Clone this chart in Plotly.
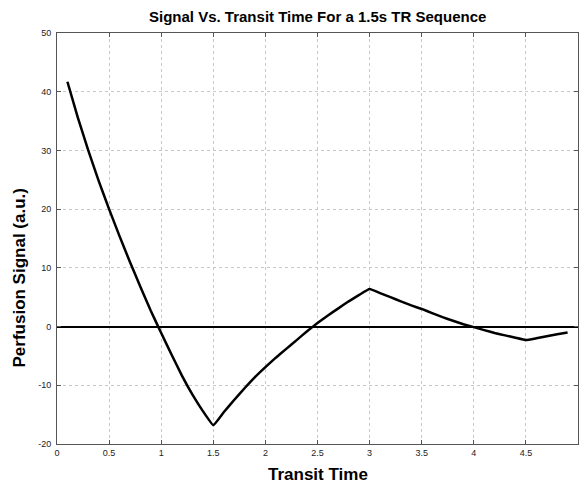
import plotly.graph_objects as go

# Transit time (s) and perfusion signal (a.u.)
transit_time = [0.1, 0.2, 0.3, 0.4, 0.5, 0.6, 0.7, 0.8, 0.9, 1.0,
                1.1, 1.2, 1.3, 1.4, 1.5, 1.6, 1.7, 1.8, 1.9, 2.0,
                2.1, 2.2, 2.3, 2.4, 2.5, 2.6, 2.7, 2.8, 2.9, 3.0,
                3.1, 3.2, 3.3, 3.4, 3.5, 3.6, 3.7, 3.8, 3.9, 4.0,
                4.1, 4.2, 4.3, 4.4, 4.5, 4.6, 4.7, 4.8, 4.9]
signal = [41.7, 35.6, 30.0, 24.8, 20.0, 15.4, 11.0, 6.8, 2.7, -1.1,
          -4.8, -8.4, -11.6, -14.4, -16.8, -14.6, -12.5, -10.5, -8.6, -6.9,
          -5.3, -3.8, -2.3, -0.8, 0.6, 1.9, 3.1, 4.3, 5.4, 6.4,
          5.7, 5.0, 4.3, 3.6, 3.0, 2.3, 1.6, 1.0, 0.4, -0.1,
          -0.6, -1.1, -1.5, -1.9, -2.3, -2.0, -1.65, -1.3, -1.0]

x_ticks = [0, 0.5, 1, 1.5, 2, 2.5, 3, 3.5, 4, 4.5, 5]
x_tick_labels = ["0", "0.5", "1", "1.5", "2", "2.5", "3", "3.5", "4", "4.5", "5"]
y_ticks = [-20, -10, 0, 10, 20, 30, 40, 50]
y_tick_labels = ["-20", "-10", "0", "10", "20", "30", "40", "50"]

FONT = "Liberation Sans"

fig = go.Figure()
fig.add_trace(go.Scatter(
    x=transit_time, y=signal, mode="lines",
    line=dict(color="black", width=2.5, shape="spline", smoothing=0.3),
    hoverinfo="skip", showlegend=False,
))

axis_common = dict(
    showline=True, linecolor="#555555", linewidth=1, mirror="ticks",
    ticks="inside", ticklen=4, tickcolor="#555555",
    showgrid=True, gridcolor="#c8c8c8", griddash="dot", gridwidth=1,
    tickfont=dict(family=FONT, size=9, color="#222222"),
)

fig.update_xaxes(
    range=[0, 5], tickvals=x_ticks, ticktext=x_tick_labels,
    zeroline=False, **axis_common,
)
fig.update_yaxes(
    range=[-20, 50], tickvals=y_ticks, ticktext=y_tick_labels,
    zeroline=True, zerolinecolor="black", zerolinewidth=2,
    ticklabelstandoff=3, **axis_common,
)

fig.update_layout(
    width=579, height=485,
    margin=dict(l=57, r=1, t=33, b=41),
    paper_bgcolor="white", plot_bgcolor="white",
    annotations=[
        dict(text="<b>Signal Vs. Transit Time For a 1.5s TR Sequence</b>",
             xref="paper", yref="paper", x=0.5, y=1, yshift=17,
             xanchor="center", yanchor="middle", showarrow=False,
             font=dict(family=FONT, size=15, color="black")),
        dict(text="<b>Transit Time</b>",
             xref="paper", yref="paper", x=0.5, y=0, yshift=-30,
             xanchor="center", yanchor="middle", showarrow=False,
             font=dict(family=FONT, size=17, color="black")),
        dict(text="<b>Perfusion Signal (a.u.)</b>",
             xref="paper", yref="paper", x=0, y=0.5, xshift=-38, yshift=-40,
             xanchor="center", yanchor="middle", showarrow=False, textangle=-90,
             font=dict(family=FONT, size=17, color="black")),
    ],
)

fig.write_html("out.html")
